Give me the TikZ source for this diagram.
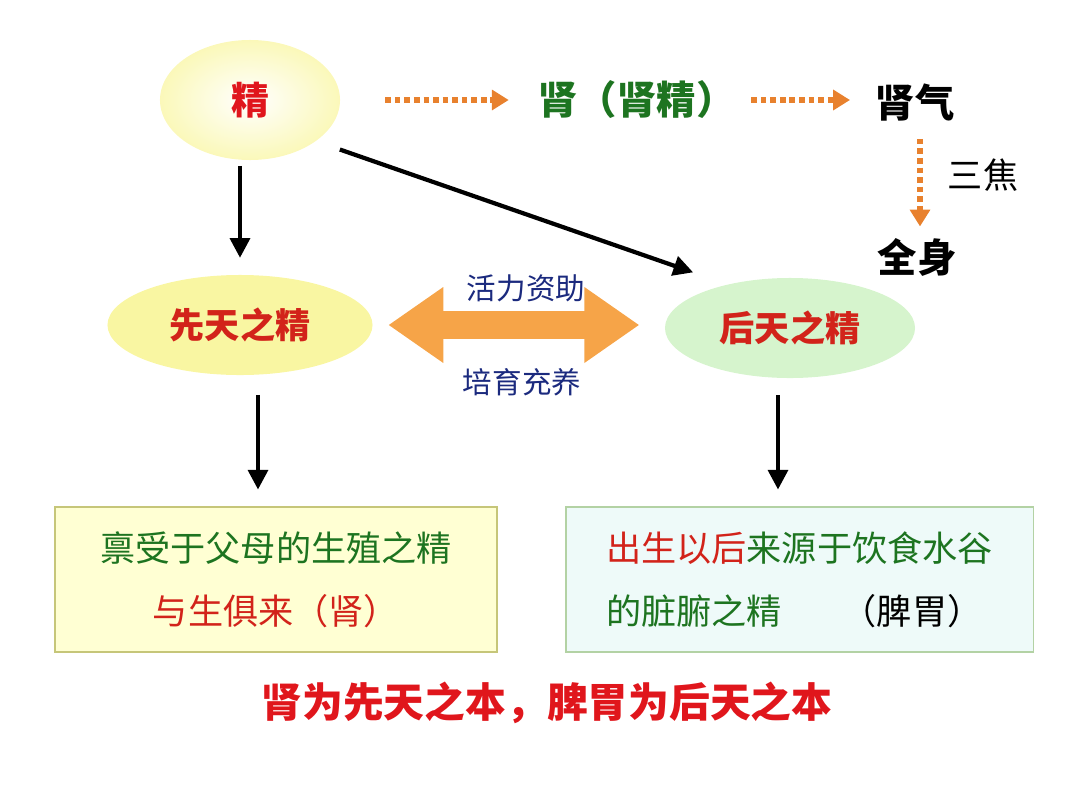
\documentclass[tikz,border=0pt]{standalone}
\usepackage{fontspec}
\setmainfont{Noto Sans CJK SC}
\usepackage{xcolor}
\usepackage{tikz}
\usetikzlibrary{arrows.meta,positioning,shapes.geometric}
\definecolor{tcmRed}{HTML}{E0161C}
\definecolor{tcmDeepRed}{HTML}{D2231A}
\definecolor{tcmGreen}{HTML}{1D7420}
\definecolor{tcmBlue}{HTML}{1B2A7E}
\definecolor{tcmOrange}{HTML}{E8812E}
\definecolor{tcmAmber}{HTML}{F6A448}
\definecolor{tcmYellow}{HTML}{F9F6A2}
\definecolor{tcmMint}{HTML}{D6F4CD}
\definecolor{tcmCream}{HTML}{FFFFD3}
\definecolor{tcmOlive}{HTML}{C6C679}
\definecolor{tcmIce}{HTML}{EEFAF9}
\definecolor{tcmSage}{HTML}{B3D2A4}
\tikzset{
  tcm diagram/.style={x=0.025cm, y=-0.025cm, line cap=butt},
  tcm ellipse/.style={ellipse, inner sep=0pt, text=tcmDeepRed,
    font=\fontsize{25}{30}\selectfont\bfseries},
  tcm box/.style={rectangle, line width=0.8pt, inner sep=0pt,
    font=\fontsize{25}{45}\selectfont},
  tcm word/.style={inner sep=0pt, font=\fontsize{28}{34}\selectfont\bfseries},
  tcm note/.style={inner sep=0pt, font=\fontsize{21}{25}\selectfont, text=tcmBlue},
  tcm arrow/.style={-{Triangle[length=14pt, width=14pt]}, draw=black, line width=3pt},
  tcm flow/.style={-{Triangle[length=12pt, width=14pt]}, draw=tcmOrange,
    line width=4pt, dash pattern=on 4pt off 2.8pt},
  tcm both/.style={{Triangle[length=1.375cm, width=1.8cm]}-{Triangle[length=1.375cm, width=1.8cm]},
    draw=tcmAmber, line width=0.7cm}
}
\begin{document}
\begin{tikzpicture}[tcm diagram]
\useasboundingbox (0,0) rectangle (1080,810);
\node[tcm ellipse, minimum width=4.5cm, minimum height=3cm, inner color=white, outer color=tcmYellow!75,
  text=tcmRed, font=\fontsize{27}{32}\selectfont\bfseries] (jing) at (250,100) {精};
\node[tcm word, text=tcmGreen] (shen) at (637,100) {肾（肾精）};
\node[tcm word] (shenqi) at (915,103) {肾气};
\node[tcm word] (quanshen) at (917,257) {全身};
\node[tcm word, font=\fontsize{25}{30}\selectfont] (sanjiao) at (983,175) {三焦};
\node[tcm ellipse, fill=tcmYellow, minimum width=6.625cm, minimum height=2.5cm] (xtj) at (240,325) {先天之精};
\node[tcm ellipse, fill=tcmMint, minimum width=6.25cm, minimum height=2.5cm] (htj) at (790,328) {后天之精};
\node[tcm note] (huoli) at (526,288) {活力资助};
\node[tcm note] (peiyu) at (522,382) {培育充养};
\node[tcm box, draw=tcmOlive, fill=tcmCream, minimum width=11.05cm, minimum height=3.625cm, align=center]
  (xtbox) at (276,579.5) {\textcolor{tcmGreen}{禀受于父母的生殖之精}\\\textcolor{tcmDeepRed}{与生俱来（肾）}};
\node[tcm box, draw=tcmSage, fill=tcmIce, minimum width=11.675cm, minimum height=3.625cm, align=left]
  (htbox) at (799.5,579.5) {\textcolor{tcmDeepRed}{出生以后}\textcolor{tcmGreen}{来源于饮食水谷}\\
  \textcolor{tcmGreen}{的脏腑之精}\hspace{1.7em}（脾胃）};
\node[tcm word, text=tcmRed, font=\fontsize{29}{34}\selectfont\bfseries] (motto) at (547,703)
  {肾为先天之本，脾胃为后天之本};
\draw[tcm flow, shorten <=32pt, shorten >=21pt] (jing.east) -- (shen.west);
\draw[tcm flow, shorten <=11pt, shorten >=18pt] (shen.east) -- (shen.east -| shenqi.west);
\draw[tcm flow, shorten <=12pt, shorten >=8pt] ([xshift=0.125cm]shenqi.south) -- ([xshift=0.125cm]shenqi.south |- quanshen.north);
\draw[tcm arrow, shorten <=4pt, shorten >=12pt] (xtj.north |- jing.south) -- (xtj.north);
\draw[tcm arrow, shorten <=18pt, shorten >=26pt] (jing.-32) -- (htj.145);
\draw[tcm both, shorten <=11pt, shorten >=18pt] (xtj.east) -- (xtj.east -| htj.west);
\draw[tcm arrow, shorten <=14pt, shorten >=12pt] ([xshift=0.45cm]xtj.south) -- ([xshift=0.45cm]xtj.south |- xtbox.north);
\draw[tcm arrow, shorten <=12pt, shorten >=12pt] ([xshift=-0.3cm]htj.south) -- ([xshift=-0.3cm]htj.south |- htbox.north);
\end{tikzpicture}
\end{document}
